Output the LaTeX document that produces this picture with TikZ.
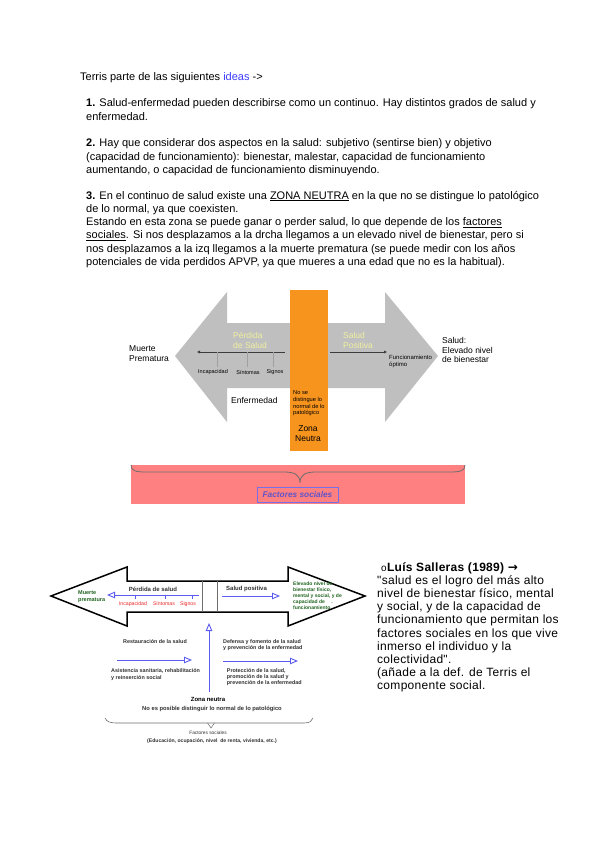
\documentclass[tikz,border=0pt]{standalone}
\usepackage{fontspec}
\setmainfont{Liberation Sans}
\newfontfamily\quotefont{Liberation Sans}[LetterSpace=2.5]
\newfontfamily\arrowfont{DejaVu Sans}
\usepackage{xcolor}
\usetikzlibrary{arrows.meta,positioning,calc,decorations.pathreplacing}
\definecolor{ArrowGray}{RGB}{191,191,191}
\definecolor{DarkLine}{RGB}{60,60,60}
\definecolor{TickGray}{RGB}{160,160,160}
\definecolor{PaleYellow}{RGB}{240,240,160}
\definecolor{ZoneOrange}{RGB}{247,148,30}
\definecolor{SocialPink}{RGB}{255,128,128}
\definecolor{BraceGray}{RGB}{110,110,110}
\definecolor{FactorBorder}{RGB}{120,110,230}
\definecolor{FactorText}{RGB}{95,85,200}
\definecolor{LineBlue}{RGB}{90,90,240}
\definecolor{LabelRed}{RGB}{235,40,40}
\definecolor{LabelGreen}{RGB}{30,100,30}
\definecolor{LabelDark}{RGB}{50,50,50}
\definecolor{IdeaBlue}{RGB}{60,60,255}

\begin{document}
\begin{tikzpicture}[x=1pt, y=-1pt,
    para/.style={anchor=base west, inner sep=0pt, font=\fontsize{11}{13.33}\selectfont},
    small/.style={inner sep=0pt, align=left, font=\fontsize{5.4}{6.6}\selectfont\bfseries, text=LabelDark},
    openhead/.style={LineBlue, line width=0.9pt, -{Triangle[open, length=8pt, width=6.5pt]}}]
      \useasboundingbox[fill=white] (0,0) rectangle (599,848);
      \node[para] (intro) at (80,80.5) {Terris parte de las siguientes \textcolor{IdeaBlue}{ideas} ->};
      \node[para] (idea1) at (86,106.7) {\parbox[t]{500pt}{\raggedright\textbf{1.} Salud-enfermedad pueden describirse como un continuo. Hay distintos grados de salud y\\
        enfermedad.}};
      \node[para] (idea2) at (86,146.7) {\parbox[t]{500pt}{\raggedright\textbf{2.} Hay que considerar dos aspectos en la salud: subjetivo (sentirse bien) y objetivo\\
        (capacidad de funcionamiento): bienestar, malestar, capacidad de funcionamiento\\
        aumentando, o capacidad de funcionamiento disminuyendo.}};
      \node[para] (idea3) at (86,199) {\parbox[t]{500pt}{\raggedright\textbf{3.} En el continuo de salud existe una \underline{ZONA NEUTRA} en la que no se distingue lo patológico\\
        de lo normal, ya que coexisten.\\
        Estando en esta zona se puede ganar o perder salud, lo que depende de los \underline{factores}\\
        \underline{sociales}. Si nos desplazamos a la drcha llegamos a un elevado nivel de bienestar, pero si\\
        nos desplazamos a la izq llegamos a la muerte prematura (se puede medir con los años\\
        potenciales de vida perdidos APVP, ya que mueres a una edad que no es la habitual).}};

      \fill[ArrowGray] (175,356) -- (227,292) -- (227,323) -- (385,323) -- (385,292) -- (438,356) -- (385,422) -- (385,388) -- (227,388) -- (227,422) -- cycle;
      \coordinate (lossfrom) at (285,352);
      \coordinate (lossto) at (197,352);
      \coordinate (gainfrom) at (330,352);
      \coordinate (gainto) at (387,352);
      \draw[DarkLine, line width=0.4pt, -{Latex[length=3pt,width=3pt]}] (lossfrom) -- (lossto);
      \draw[DarkLine, line width=0.4pt, -{Latex[length=3pt,width=3pt]}] (gainfrom) -- (gainto);
      \foreach \x in {217,247,273}
        \draw[TickGray, line width=0.3pt] (\x,352) -- (\x,367);
      \node[inner sep=0pt, font=\fontsize{5.5}{6}\selectfont] (incap) at (213,372) {Incapacidad};
      \node[inner sep=0pt, font=\fontsize{5.5}{6}\selectfont] (sintomas) at (248,372) {Síntomas};
      \node[inner sep=0pt, font=\fontsize{5.5}{6}\selectfont] (signos) at (275,372) {Signos};
      \node[anchor=west, inner sep=0pt, align=left, text=PaleYellow, font=\fontsize{8.5}{10}\selectfont] (perdida) at (233,340) {Pérdida\\de Salud};
      \node[anchor=west, inner sep=0pt, align=left, text=PaleYellow, font=\fontsize{8.5}{10}\selectfont] (positiva) at (343,340) {Salud\\Positiva};
      \node[anchor=west, inner sep=0pt, align=left, font=\fontsize{8.5}{9.5}\selectfont] (muerte) at (129,353.5) {Muerte\\Prematura};
      \node[anchor=west, inner sep=0pt, align=left, font=\fontsize{8.5}{9.5}\selectfont] (bienestar) at (442,350) {Salud:\\Elevado nivel\\de bienestar};
      \node[anchor=west, inner sep=0pt, align=left, font=\fontsize{6}{7.3}\selectfont] (optimo) at (389,361.5) {Funcionamiento\\óptimo};
      \node[anchor=west, inner sep=0pt, font=\fontsize{8.5}{10}\selectfont] (enfermedad) at (231,400) {Enfermedad};
      \fill[ZoneOrange] (290,290) rectangle (328,451);
      \node[anchor=west, inner sep=0pt, align=left, font=\fontsize{5.7}{6.67}\selectfont] (nodistingue) at (293,403.3) {No se\\distingue lo\\normal de lo\\patológico};
      \node[inner sep=0pt, align=center, font=\fontsize{8.5}{10}\selectfont] (zona) at (308,434) {Zona\\Neutra};
      \fill[SocialPink] (131,465) rectangle (465,504);
      \draw[BraceGray, line width=0.8pt] (131,465) .. controls (131,471) and (136,472) .. (146,472) -- (284,472) .. controls (295,472) and (300,475) .. (300,483) .. controls (300,475) and (305,472) .. (316,472) -- (450,472) .. controls (460,472) and (465,471) .. (465,465);
      \node[draw=FactorBorder, line width=0.9pt, text=FactorText, font=\fontsize{8.3}{10}\selectfont\bfseries\itshape, minimum width=81pt, minimum height=15pt, inner sep=0pt] (factores) at (297.5,494.5) {Factores sociales};

      \filldraw[fill=white, draw=black, line width=1.5pt] (51,596) -- (127,567) -- (127,581) -- (288,581) -- (288,567) -- (365,596) -- (288,626) -- (288,612) -- (127,612) -- (127,626) -- cycle;
      \draw[BraceGray, line width=0.8pt] (202,581) -- (202,612);
      \draw[BraceGray, line width=0.8pt] (217,581) -- (217,612);
      \coordinate (lossstart) at (199,595);
      \coordinate (lossend) at (107,595);
      \coordinate (gainstart) at (222,596);
      \coordinate (gainend) at (280,596);
      \coordinate (neutralbase) at (209,692);
      \coordinate (neutraltop) at (209,623);
      \coordinate (restfrom) at (117,660);
      \coordinate (restto) at (192,660);
      \coordinate (defendfrom) at (223,661);
      \coordinate (defendto) at (298,661);
      \draw[openhead] (lossstart) -- (lossend);
      \foreach \x in {135,165,192}
        \draw[LineBlue, line width=0.8pt] (\x,595) -- (\x,599);
      \draw[openhead] (gainstart) -- (gainend);
      \draw[openhead] (neutralbase) -- (neutraltop);
      \draw[openhead] (restfrom) -- (restto);
      \draw[openhead] (defendfrom) -- (defendto);
      \node[small, font=\fontsize{6}{7}\selectfont\bfseries] (perdidab) at (153,589) {Pérdida de salud};
      \node[small, anchor=west, text=LabelGreen, font=\fontsize{5.5}{6.7}\selectfont\bfseries] (muerteb) at (78,596.7) {Muerte\\prematura};
      \node[small, text=LabelRed, font=\fontsize{5.2}{6}\selectfont] (incapb) at (133,604) {Incapacidad};
      \node[small, text=LabelRed, font=\fontsize{5.2}{6}\selectfont] (sintomasb) at (164,604) {Síntomas};
      \node[small, text=LabelRed, font=\fontsize{5.2}{6}\selectfont] (signosb) at (188,604) {Signos};
      \node[small, anchor=west, font=\fontsize{6}{7}\selectfont\bfseries] (positivab) at (226,589.3) {Salud positiva};
      \node[small, anchor=west, text=LabelGreen, font=\fontsize{5}{5.9}\selectfont\bfseries] (elevado) at (293,596) {Elevado nivel de\\bienestar físico,\\mental y social, y de\\capacidad de \quad.\\funcionamiento};
      \node[small] (restauracion) at (155,642) {Restauración de la salud};
      \node[small, anchor=west] (asistencia) at (111,674.5) {Asistencia sanitaria, rehabilitación\\y reinserción social};
      \node[small, anchor=west] (defensa) at (223,645) {Defensa y fomento de la salud\\y prevención de la enfermedad};
      \node[small, anchor=west, font=\fontsize{5.4}{6}\selectfont\bfseries] (proteccion) at (226.7,677) {Protección de la salud,\\promoción de la salud y\\prevención de la enfermedad};
      \node[small, text=black, font=\fontsize{6}{7}\selectfont\bfseries] (zonab) at (208,699.5) {Zona neutra};
      \node[small, font=\fontsize{5.8}{7}\selectfont\bfseries] (nodistingueb) at (212,709) {No es posible distinguir lo normal de lo patológico};
      \draw[BraceGray, line width=0.6pt] (105,718) .. controls (107,722) and (110,723) .. (118,723) -- (304,723) .. controls (310,723) and (312,721) .. (313,718);
      \draw[BraceGray, line width=0.5pt] (207.5,723) -- (211,728) -- (214.5,723);
      \node[small, font=\fontsize{4.8}{6}\selectfont] (factoresb) at (208,733) {Factores sociales};
      \node[small, font=\fontsize{5.1}{6}\selectfont\bfseries] (ejemplos) at (212,741) {(Educación, ocupación, nivel\ \ de renta, vivienda, etc.)};

      \node[anchor=base west, inner sep=0pt, font=\quotefont\fontsize{12}{13.1}\selectfont] (salleras) at (377,571.5) {\parbox[t]{220pt}{\raggedright\hspace*{4pt}{\fontsize{10}{10}\selectfont o}\textbf{Luís Salleras (1989) {\arrowfont →}}\\
        "salud es el logro del más alto\\
        nivel de bienestar físico, mental\\
        y social, y de la capacidad de\\
        funcionamiento que permitan los\\
        factores sociales en los que vive\\
        inmerso el individuo y la\\
        colectividad".\\
        (añade a la def. de Terris el\\
        componente social.}};
    \end{tikzpicture}
\end{document}
